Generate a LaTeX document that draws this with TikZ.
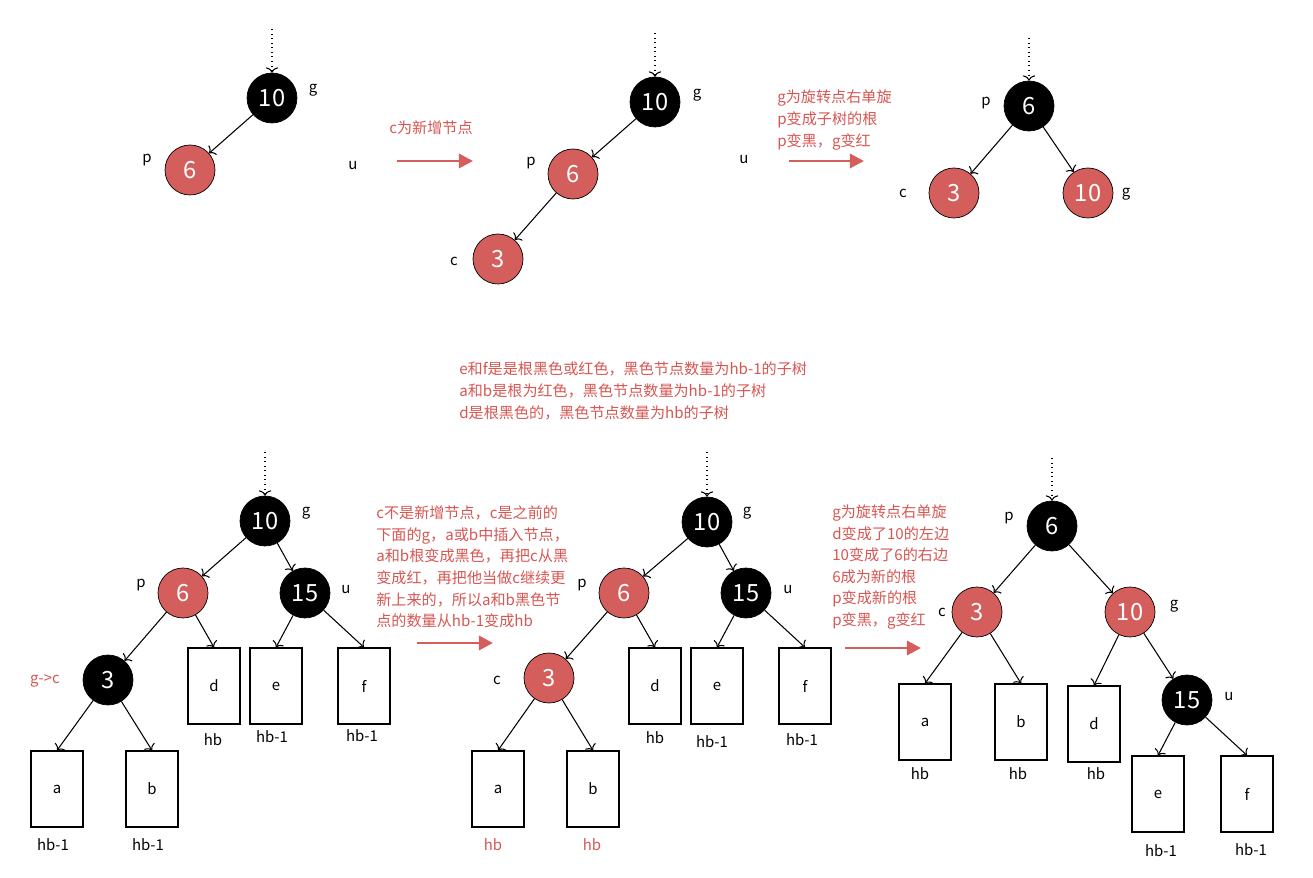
\documentclass[tikz,border=0pt]{standalone}
\usepackage{fontspec}
\setmainfont{Noto Sans CJK SC}
\usepackage{xcolor}
\usepackage{tikz}
\usetikzlibrary{arrows.meta,positioning}
\definecolor{rbred}{RGB}{212,94,92}
\definecolor{notered}{RGB}{214,86,82}

\begin{document}
\begin{tikzpicture}[
    x=0.02cm, y=-0.02cm,
    font=\fontsize{8.5}{10}\selectfont,
    blacknode/.style={circle, draw=black, fill=black, text=white, minimum size=1cm, inner sep=0pt, font=\fontsize{13.5}{13.5}\selectfont},
    rednode/.style={circle, draw=black, fill=rbred, text=white, minimum size=1cm, inner sep=0pt, font=\fontsize{13.5}{13.5}\selectfont},
    subtree/.style={rectangle, draw=black, line width=0.7pt, minimum width=1.04cm, minimum height=1.52cm, inner sep=0pt},
    tag/.style={inner sep=0pt},
    redtag/.style={inner sep=0pt, text=notered},
    note/.style={inner sep=0pt, text=notered, align=left, anchor=west, font=\fontsize{8.6}{12.3}\selectfont},
    edge/.style={-{To[length=3pt,width=7pt]}, line width=0.6pt},
    entry/.style={-{To[length=3pt,width=7pt]}, dotted, line width=0.6pt},
    move/.style={-{Triangle[length=8pt,width=8pt]}, line width=1.7pt, draw=rbred},
]
\useasboundingbox (0,0) rectangle (1313,878);

\node[blacknode] (t1g) at (272,98) {10};
\node[rednode] (t1p) at (190,170) {6};
\coordinate (t1top) at (272,29);
\node[tag] (t1gl) at (313,90) {g};
\node[tag] (t1pl) at (147,160) {p};
\node[tag] (t1ul) at (353,166) {u};
\draw[entry] (t1top) -- (t1g);
\draw[edge] (t1g) -- (t1p);

\node[note, anchor=center] (n1) at (431,128) {c为新增节点};
\coordinate (m1s) at (397,161);
\coordinate (m1e) at (473,161);
\draw[move] (m1s) -- (m1e);

\node[blacknode] (t2g) at (655,102) {10};
\node[rednode] (t2p) at (573,174) {6};
\node[rednode] (t2c) at (498,259) {3};
\coordinate (t2top) at (655,33);
\node[tag] (t2gl) at (697,95) {g};
\node[tag] (t2pl) at (531,163) {p};
\node[tag] (t2cl) at (454,261) {c};
\node[tag] (t2ul) at (744,160) {u};
\draw[entry] (t2top) -- (t2g);
\draw[edge] (t2g) -- (t2p);
\draw[edge] (t2p) -- (t2c);

\node[note] (n2) at (777,120) {g为旋转点右单旋\\p变成子树的根\\p变黑，g变红};
\coordinate (m2s) at (789,161);
\coordinate (m2e) at (864,161);
\draw[move] (m2s) -- (m2e);

\node[blacknode] (t3p) at (1029,106) {6};
\node[rednode] (t3c) at (954,193) {3};
\node[rednode] (t3g) at (1088,193) {10};
\coordinate (t3top) at (1029,38);
\node[tag] (t3pl) at (986,103) {p};
\node[tag] (t3cl) at (903,193) {c};
\node[tag] (t3gl) at (1126,194) {g};
\draw[entry] (t3top) -- (t3p);
\draw[edge] (t3p) -- (t3c);
\draw[edge] (t3p) -- (t3g);

\node[note] (n3) at (459,391) {e和f是是根黑色或红色，黑色节点数量为hb-1的子树\\a和b是根为红色，黑色节点数量为hb-1的子树\\d是根黑色的，黑色节点数量为hb的子树};

\node[blacknode] (t4g) at (265,521) {10};
\node[rednode] (t4p) at (183,593) {6};
\node[blacknode] (t4u) at (305,593) {15};
\node[blacknode] (t4c) at (108,680) {3};
\node[subtree] (t4a) at (57,789) {a};
\node[subtree] (t4b) at (152,789) {b};
\node[subtree] (t4d) at (214,686) {d};
\node[subtree] (t4e) at (276,686) {e};
\node[subtree] (t4f) at (364,686) {f};
\coordinate (t4top) at (265,452);
\node[tag] (t4gl) at (306,513) {g};
\node[tag] (t4pl) at (141,585) {p};
\node[tag] (t4ul) at (346,590) {u};
\node[redtag] (t4cl) at (45,681) {g->c};
\node[tag] (t4ah) at (53,845) {hb-1};
\node[tag] (t4bh) at (148,845) {hb-1};
\node[tag] (t4dh) at (213,740) {hb};
\node[tag] (t4eh) at (272,737) {hb-1};
\node[tag] (t4fh) at (362,736) {hb-1};
\draw[entry] (t4top) -- (t4g);
\draw[edge] (t4g) -- (t4p);
\draw[edge] (t4g) -- (t4u);
\draw[edge] (t4p) -- (t4c);
\draw[edge] (t4p) -- (t4d.north);
\draw[edge] (t4c) -- (t4a.north);
\draw[edge] (t4c) -- (t4b.north);
\draw[edge] (t4u) -- (t4e.north);
\draw[edge] (t4u) -- (t4f.north);

\node[note] (n4) at (376,567) {c不是新增节点，c是之前的\\下面的g，a或b中插入节点，\\a和b根变成黑色，再把c从黑\\变成红，再把他当做c继续更\\新上来的，所以a和b黑色节\\点的数量从hb-1变成hb};
\coordinate (m4s) at (417,643);
\coordinate (m4e) at (493,643);
\draw[move] (m4s) -- (m4e);

\node[blacknode] (t5g) at (707,522) {10};
\node[rednode] (t5p) at (624,593) {6};
\node[blacknode] (t5u) at (746,593) {15};
\node[rednode] (t5c) at (549,678) {3};
\node[subtree] (t5a) at (498,789) {a};
\node[subtree] (t5b) at (593,789) {b};
\node[subtree] (t5d) at (655,686) {d};
\node[subtree] (t5e) at (717,686) {e};
\node[subtree] (t5f) at (805,686) {f};
\coordinate (t5top) at (707,452);
\node[tag] (t5gl) at (747,513) {g};
\node[tag] (t5pl) at (582,585) {p};
\node[tag] (t5ul) at (788,590) {u};
\node[tag] (t5cl) at (497,680) {c};
\node[redtag] (t5ah) at (493,845) {hb};
\node[redtag] (t5bh) at (592,845) {hb};
\node[tag] (t5dh) at (655,738) {hb};
\node[tag] (t5eh) at (712,742) {hb-1};
\node[tag] (t5fh) at (802,740) {hb-1};
\draw[entry] (t5top) -- (t5g);
\draw[edge] (t5g) -- (t5p);
\draw[edge] (t5g) -- (t5u);
\draw[edge] (t5p) -- (t5c);
\draw[edge] (t5p) -- (t5d.north);
\draw[edge] (t5c) -- (t5a.north);
\draw[edge] (t5c) -- (t5b.north);
\draw[edge] (t5u) -- (t5e.north);
\draw[edge] (t5u) -- (t5f.north);

\node[note] (n5) at (832,567) {g为旋转点右单旋\\d变成了10的左边\\10变成了6的右边\\6成为新的根\\p变成新的根\\p变黑，g变红};
\coordinate (m5s) at (845,648);
\coordinate (m5e) at (921,648);
\draw[move] (m5s) -- (m5e);

\node[blacknode] (t6p) at (1052,526) {6};
\node[rednode] (t6c) at (977,612) {3};
\node[rednode] (t6g) at (1130,612) {10};
\node[blacknode] (t6u) at (1187,700) {15};
\node[subtree] (t6a) at (925,722) {a};
\node[subtree] (t6b) at (1021,722) {b};
\node[subtree] (t6d) at (1094,724) {d};
\node[subtree] (t6e) at (1158,794) {e};
\node[subtree] (t6f) at (1247,794) {f};
\coordinate (t6top) at (1052,458);
\node[tag] (t6pl) at (1009,518) {p};
\node[tag] (t6cl) at (942,612) {c};
\node[tag] (t6gl) at (1174,606) {g};
\node[tag] (t6ul) at (1229,697) {u};
\node[tag] (t6ah) at (920,774) {hb};
\node[tag] (t6bh) at (1018,774) {hb};
\node[tag] (t6dh) at (1096,774) {hb};
\node[tag] (t6eh) at (1161,851) {hb-1};
\node[tag] (t6fh) at (1251,850) {hb-1};
\draw[entry] (t6top) -- (t6p);
\draw[edge] (t6p) -- (t6c);
\draw[edge] (t6p) -- (t6g);
\draw[edge] (t6c) -- (t6a.north);
\draw[edge] (t6c) -- (t6b.north);
\draw[edge] (t6g) -- (t6d.north);
\draw[edge] (t6g) -- (t6u);
\draw[edge] (t6u) -- (t6e.north);
\draw[edge] (t6u) -- (t6f.north);

\end{tikzpicture}
\end{document}
